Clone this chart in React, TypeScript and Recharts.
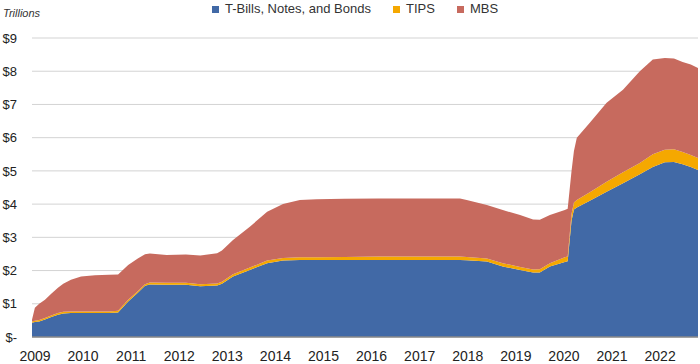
import React from "react";
import { AreaChart, Area, XAxis, YAxis, CartesianGrid } from "recharts";

const dates = [
  2009.0, 2009.06, 2009.15, 2009.27, 2009.4, 2009.54, 2009.65, 2009.81,
  2010.02, 2010.31, 2010.6, 2010.79, 2011.0, 2011.2, 2011.35, 2011.45,
  2011.8, 2012.2, 2012.5, 2012.85, 2012.95, 2013.18, 2013.53, 2013.89,
  2014.22, 2014.57, 2014.92, 2015.5, 2016.2, 2017.0, 2017.9, 2018.04,
  2018.46, 2018.79, 2019.15, 2019.42, 2019.56, 2019.77, 2020.08, 2020.14,
  2020.22, 2020.27, 2020.33, 2020.6, 2020.95, 2021.29, 2021.64, 2021.91,
  2022.16, 2022.35, 2022.53, 2022.7, 2022.85,
];

const treasuries = [
  0.43, 0.45, 0.47, 0.53, 0.6, 0.67, 0.71, 0.72,
  0.72, 0.72, 0.72, 0.74, 1.07, 1.33, 1.54, 1.58,
  1.57, 1.57, 1.53, 1.55, 1.6, 1.82, 2.02, 2.22,
  2.3, 2.32, 2.32, 2.32, 2.32, 2.32, 2.32, 2.31,
  2.27, 2.12, 2.02, 1.94, 1.94, 2.12, 2.26, 2.28,
  3.5, 3.84, 3.9, 4.1, 4.37, 4.63, 4.9, 5.12,
  5.26, 5.27, 5.2, 5.12, 5.03,
];

const tips = [
  0.04, 0.04, 0.04, 0.04, 0.05, 0.05, 0.05, 0.05,
  0.05, 0.05, 0.05, 0.05, 0.05, 0.05, 0.05, 0.06,
  0.06, 0.06, 0.06, 0.06, 0.06, 0.07, 0.07, 0.08,
  0.08, 0.08, 0.08, 0.09, 0.1, 0.1, 0.1, 0.1,
  0.09, 0.1, 0.09, 0.09, 0.1, 0.1, 0.14, 0.14,
  0.2, 0.21, 0.22, 0.26, 0.3, 0.33, 0.34, 0.38,
  0.38, 0.38, 0.37, 0.36, 0.36,
];

const mbs = [
  0.05, 0.39, 0.49, 0.55, 0.65, 0.76, 0.84, 0.95,
  1.05, 1.09, 1.1, 1.09, 1.05, 0.98, 0.9, 0.87,
  0.84, 0.85, 0.86, 0.91, 0.94, 1.03, 1.23, 1.47,
  1.62, 1.72, 1.75, 1.75, 1.75, 1.75, 1.75, 1.71,
  1.61, 1.6, 1.56, 1.51, 1.49, 1.45, 1.42, 1.44,
  1.3, 1.55, 1.88, 2.09, 2.38, 2.48, 2.76, 2.85,
  2.76, 2.73, 2.71, 2.72, 2.71,
];

const yearTicks = [2009, 2010, 2011, 2012, 2013, 2014, 2015, 2016, 2017, 2018, 2019, 2020, 2021, 2022];
const valueTicks = [0, 1, 2, 3, 4, 5, 6, 7, 8, 9];

const series = [
  { key: "treasuries", name: "T-Bills, Notes, and Bonds", color: "#4169A6" },
  { key: "tips", name: "TIPS", color: "#F5A800" },
  { key: "mbs", name: "MBS", color: "#C76A5E" },
];

const data = dates.map((t, i) => ({
  t,
  treasuries: treasuries[i],
  tips: tips[i],
  mbs: mbs[i],
}));

const font = "'Liberation Sans', Arial, sans-serif";

export default function App() {
  return (
    <div style={{ position: "absolute", left: 0, top: 0, width: 700, height: 364, background: "#fff", fontFamily: font }}>
      <div
        style={{
          position: "absolute",
          left: 3,
          top: 7,
          fontSize: 11,
          fontStyle: "italic",
          color: "#333",
          lineHeight: "13px",
        }}
      >
        Trillions
      </div>
      <div
        style={{
          position: "absolute",
          left: 212,
          top: 1,
          display: "flex",
          alignItems: "center",
          fontSize: 13,
          color: "#333",
          lineHeight: "16px",
          whiteSpace: "nowrap",
        }}
      >
        {series.map((s, i) => (
          <div key={s.key} style={{ display: "flex", alignItems: "center", marginRight: i < series.length - 1 ? 22 : 0 }}>
            <span style={{ display: "inline-block", width: 7, height: 7, background: s.color, marginRight: 6 }} />
            <span>{s.name}</span>
          </div>
        ))}
      </div>
      <AreaChart
        width={700}
        height={364}
        data={data}
        margin={{ top: 38, right: 2, bottom: 0, left: 0 }}
      >
        <CartesianGrid vertical={false} stroke="#d3d3d3" strokeWidth={1} />
        <XAxis
          dataKey="t"
          type="number"
          domain={[2009, 2022.85]}
          ticks={yearTicks}
          tickLine={false}
          tickSize={0}
          tickMargin={14}
          height={27}
          axisLine={{ stroke: "#8a8a8a", strokeWidth: 1.5 }}
          tick={{ fill: "#222", fontSize: 14, fontFamily: font, dx: 3 }}
          allowDataOverflow
        />
        <YAxis
          type="number"
          domain={[0, 9]}
          ticks={valueTicks}
          width={32}
          axisLine={false}
          tickLine={false}
          tickSize={0}
          tickMargin={15}
          interval={0}
          tick={{ fill: "#222", fontSize: 13, fontFamily: font }}
          tickFormatter={(v: number) => (v === 0 ? "$-" : `$${v}`)}
        />
        {series.map((s) => (
          <Area
            key={s.key}
            dataKey={s.key}
            name={s.name}
            stackId="a"
            type="linear"
            stroke="none"
            fill={s.color}
            fillOpacity={1}
            isAnimationActive={false}
            dot={false}
            activeDot={false}
          />
        ))}
      </AreaChart>
    </div>
  );
}
